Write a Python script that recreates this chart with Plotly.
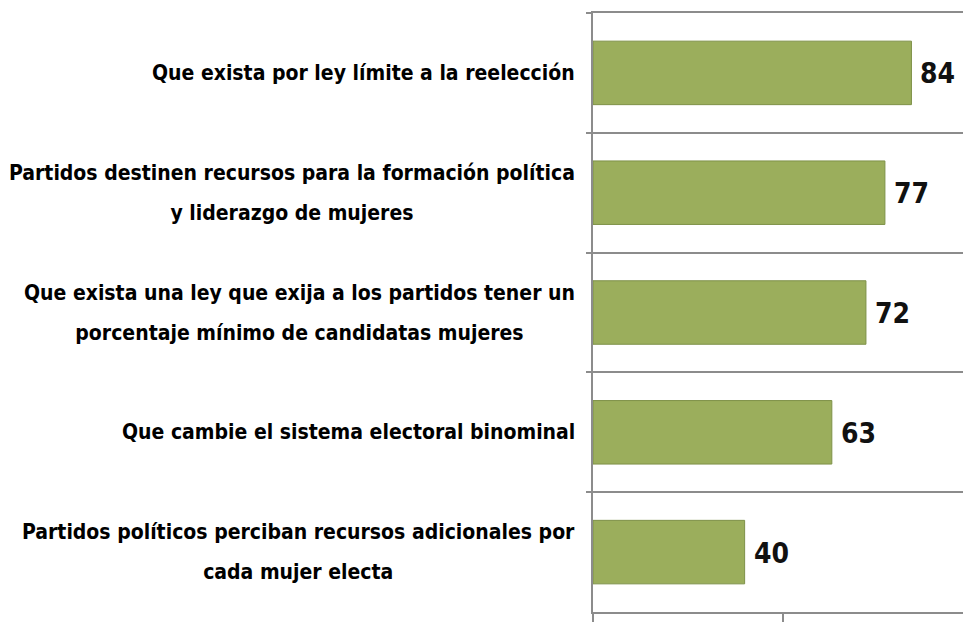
import plotly.graph_objects as go

categories = [
    "Que exista por ley límite a la reelección",
    "Partidos destinen recursos para la formación política<br>y liderazgo de mujeres",
    "Que exista una ley que exija a los partidos tener un<br>porcentaje mínimo de candidatas mujeres",
    "Que cambie el sistema electoral binominal",
    "Partidos políticos perciban recursos adicionales por<br>cada mujer electa",
]
values = [84, 77, 72, 63, 40]
x_ticks = [0, 50, 100]

BAR = "#9bae5c"
EDGE = "#7e9148"
GRID = "#8c8c8c"
FONT = "'DejaVu Sans Condensed', 'Liberation Sans', Arial, sans-serif"

fig = go.Figure(
    go.Bar(
        x=values,
        y=categories,
        orientation="h",
        marker=dict(color=BAR, line=dict(color=EDGE, width=1)),
        cliponaxis=False,
        width=0.53,
        hoverinfo="x+y",
    )
)

for cat, v in zip(categories, values):
    label = "<br>".join(
        f"<span style='font-size:21px'>{line}</span>" for line in cat.split("<br>")
    )
    fig.add_annotation(
        x=0, xref="paper", y=cat, yref="y",
        text=label, showarrow=False,
        xanchor="right", yanchor="middle", align="center",
        xshift=-16,
        font=dict(family=FONT, size=31, color="#000000", weight="bold"),
    )
    fig.add_annotation(
        x=v, xref="x", y=cat, yref="y",
        text=str(v), showarrow=False,
        xanchor="left", yanchor="middle",
        xshift=7, yshift=-1,
        font=dict(family=FONT, size=28, color="#111111", weight="bold"),
    )

fig.update_layout(
    width=963, height=622,
    margin=dict(l=593, r=0, t=13, b=10),
    paper_bgcolor="white", plot_bgcolor="white",
    showlegend=False,
)
fig.update_xaxes(
    range=[0, 97.6], tickvals=x_ticks, showticklabels=False,
    ticks="outside", ticklen=10, tickcolor=GRID, tickwidth=1.5,
    showgrid=False, zeroline=False,
    showline=True, mirror=True, linecolor=GRID, linewidth=1.5,
)
fig.update_yaxes(
    range=[4.5, -0.5], showticklabels=False,
    tickson="boundaries", ticks="outside", ticklen=5, tickcolor=GRID, tickwidth=1.5,
    showgrid=True, gridcolor=GRID, gridwidth=1.5,
    showline=True, linecolor=GRID, linewidth=1.5,
)

fig.write_html(
    "out.html",
    config={"displayModeBar": False},
    post_script="document.body.style.margin='0';",
)
